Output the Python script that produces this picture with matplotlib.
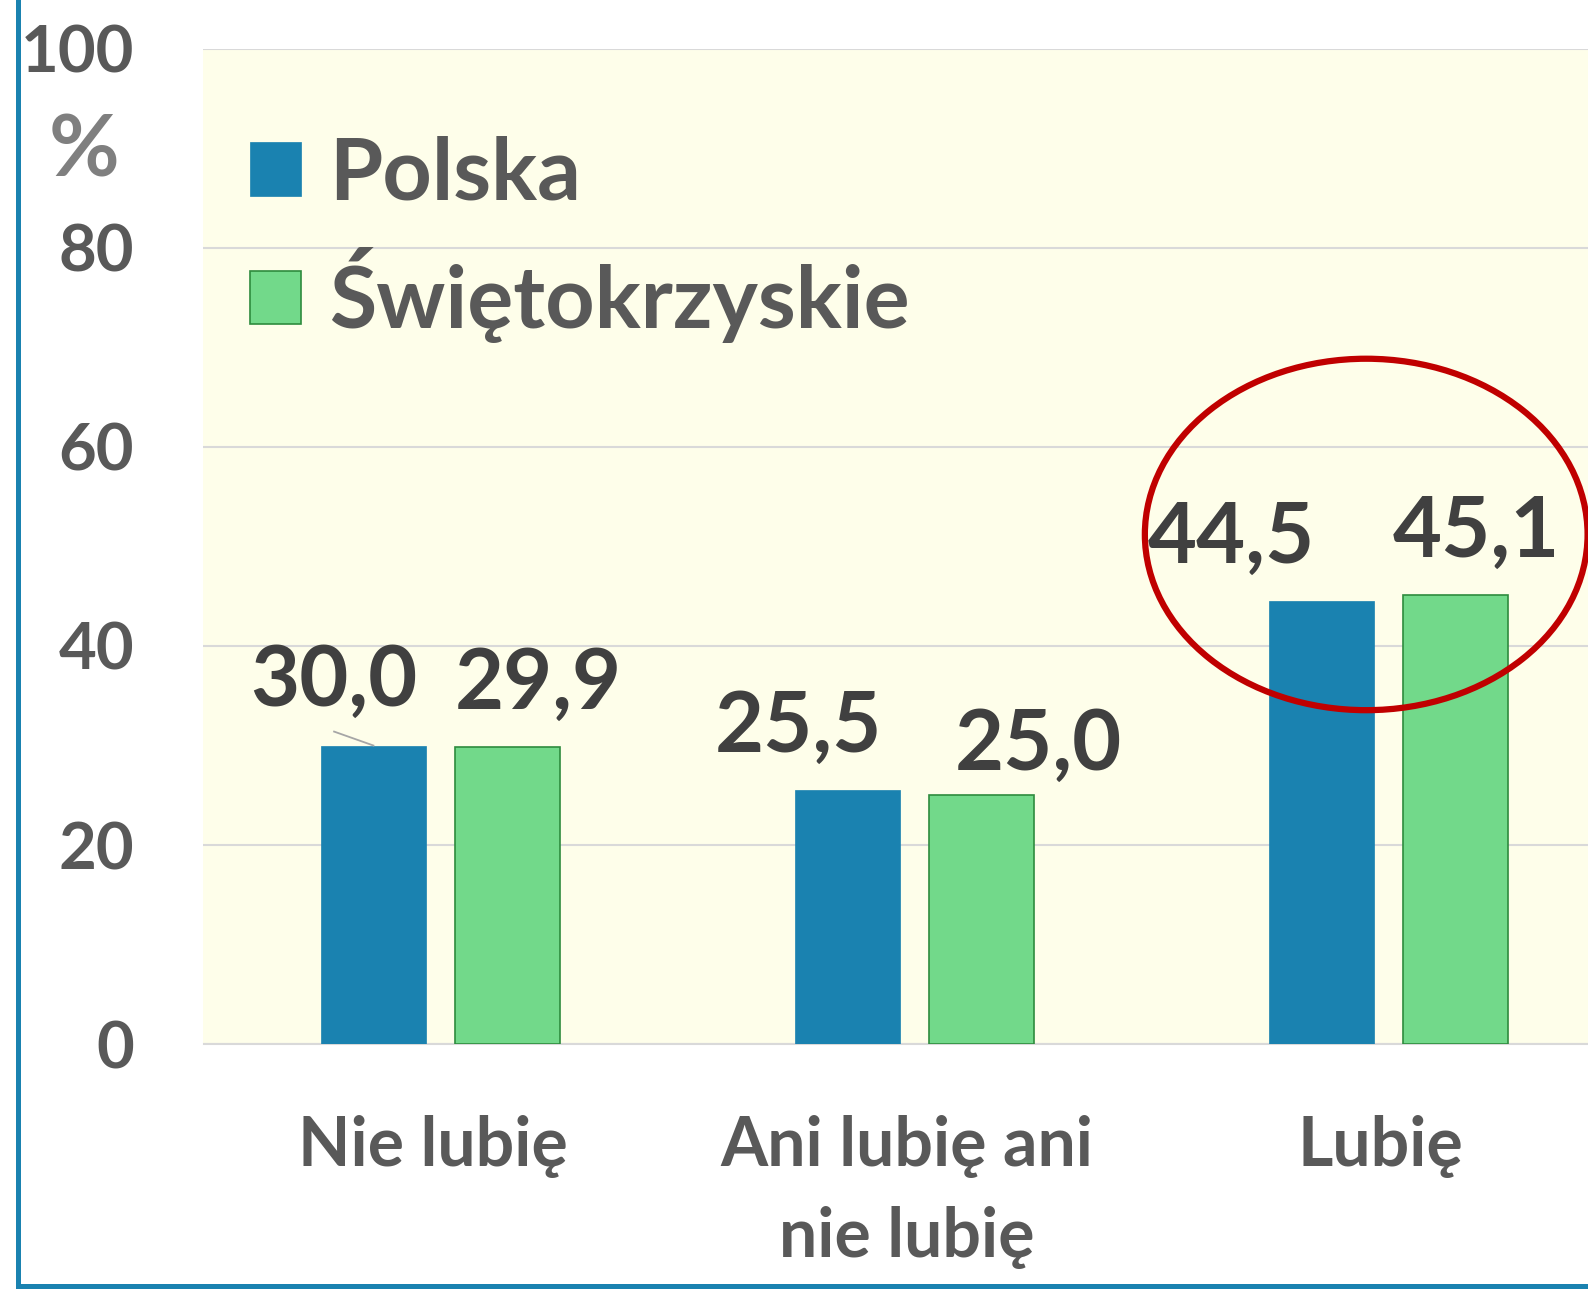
import matplotlib
matplotlib.use("Agg")
import matplotlib.pyplot as plt
from matplotlib.patches import Ellipse
from matplotlib.lines import Line2D
import matplotlib.transforms as mtransforms
import numpy as np

# ---- data ----
categories = ["Nie lubię", "Ani lubię ani\nnie lubię", "Lubię"]
series_names = ["Polska", "Świętokrzyskie"]
polska = [30.0, 25.5, 44.5]
swietokrzyskie = [29.9, 25.0, 45.1]
yticks = [0, 20, 40, 60, 80, 100]

# ---- label placement (style/position, not data) ----
label_dx = [[-0.083, -0.103, -0.19], [0.065, 0.119, 0.044]]
label_dy = [[3.98, 3.9, 3.8], [3.77, 2.57, 3.8]]

FONT = ["Lato", "DejaVu Sans"]
plt.rcParams["font.family"] = FONT
plt.rcParams["font.weight"] = "bold"

BLUE = "#1A82B0"
GREEN = "#72D98A"
GREEN_EDGE = "#2E8B3E"
TXT = "#595959"
VAL = "#404040"

W, H = 1588, 1289
fig = plt.figure(figsize=(W / 100, H / 100), dpi=100)
fig.patch.set_facecolor("white")

ax_left = 203.5 / W
ax_bottom = (H - 1044.2) / H
ax_height = (1044.2 - 48.6) / H
ax_width = 3 * 474 / W
ax = fig.add_axes([ax_left, ax_bottom, ax_width, ax_height])
ax.set_facecolor("#FEFEEA")

x = np.arange(len(categories))
bw = 0.222
off = 0.1415
ax.bar(x - off, polska, bw, color=BLUE, edgecolor=BLUE, linewidth=0.5,
       label=series_names[0], zorder=3)
ax.bar(x + off, swietokrzyskie, bw, color=GREEN, edgecolor=GREEN_EDGE,
       linewidth=1.2, label=series_names[1], zorder=3)

ax.set_xlim(-0.5, 2.5)
ax.set_ylim(0, 100)
ax.set_yticks(yticks)
ax.set_yticklabels([str(v) for v in yticks])
ax.set_xticks(x)
ax.set_xticklabels(categories)
ax.tick_params(axis="y", length=0, pad=50, labelsize=47, labelcolor=TXT)
ax.tick_params(axis="x", length=0, pad=51, labelsize=49, labelcolor=TXT)
shift = mtransforms.ScaledTranslation(-8 / 100, 0, fig.dpi_scale_trans)
for lab in ax.get_xticklabels():
    lab.set_linespacing(1.55)
    lab.set_transform(lab.get_transform() + shift)
for lab in ax.get_yticklabels() + ax.get_xticklabels():
    lab.set_fontweight("bold")

ax.grid(axis="y", color="#D9D9D9", linewidth=1.5, zorder=0)
ax.set_axisbelow(True)
for s in ["top", "right", "left"]:
    ax.spines[s].set_visible(False)
ax.spines["bottom"].set_color("#D9D9D9")
ax.spines["bottom"].set_linewidth(1.5)

# value labels
for si, (vals, cx) in enumerate([(polska, x - off), (swietokrzyskie, x + off)]):
    for i, v in enumerate(vals):
        ax.text(cx[i] + label_dx[si][i], v + label_dy[si][i],
                f"{v:.1f}".replace(".", ","), ha="center", va="baseline",
                fontsize=61, fontweight="bold", color=VAL, zorder=5)

# leader line for first label
ax.plot([x[0] - off + label_dx[0][0], x[0] - off], [31.4, polska[0]],
        color="#A6A6A6", linewidth=1.3, zorder=4)

# red ellipse around "Lubię"
ax.add_patch(Ellipse((x[2] - 0.047, 51.2), 0.934, 35.3, fill=False,
                     edgecolor="#C00000", linewidth=4.5, zorder=6,
                     clip_on=False))

# legend
leg = ax.legend(loc="upper left", bbox_to_anchor=(0.033, 0.913), frameon=False,
                fontsize=62, handlelength=0.585, handleheight=0.585,
                handletextpad=0.33, labelspacing=0.38, borderpad=0,
                borderaxespad=0)
for t in leg.get_texts():
    t.set_color(TXT)
    t.set_fontweight("bold")

# percent sign
fig.text(84 / W, 1 - 152 / H, "%", ha="center", va="center", fontsize=62,
         fontweight="bold", color="#7F7F7F")

# blue frame (left and bottom visible)
fx = 17.5 / W
fy = (H - 1285.5) / H
fig.add_artist(Line2D([fx, fx], [fy, 1.01], transform=fig.transFigure,
                      color=BLUE, linewidth=3.6))
fig.add_artist(Line2D([fx, 1.01], [fy, fy], transform=fig.transFigure,
                      color=BLUE, linewidth=3.6))

fig.savefig("out.png", dpi=100)
